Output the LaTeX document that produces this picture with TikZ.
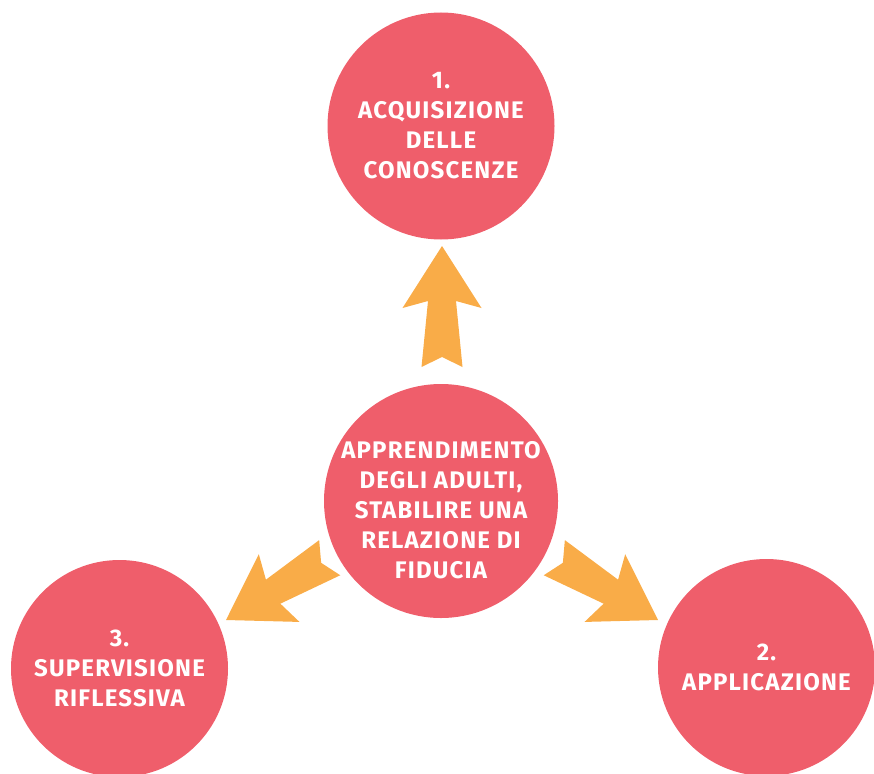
\documentclass[tikz,border=0pt]{standalone}
\usepackage{fontspec}
\setmainfont{Fira Sans}[LetterSpace=5]
\usetikzlibrary{shapes}

\definecolor{bubblered}{RGB}{239,94,107}
\definecolor{arroworange}{RGB}{249,172,72}

\tikzset{
  bubble/.style={circle, fill=bubblered, inner sep=0pt},
  bubbletext/.style={text=white, align=center, inner sep=0pt,
    font=\fontsize{24}{30}\selectfont\bfseries},
  fatarrow/.pic={
    \fill[arroworange] (0,0) -- (-62,39.5) -- (-55,14) -- (-121,20.5)
      -- (-111,0) -- (-121,-20.5) -- (-55,-14) -- (-62,-39.5) -- cycle;
  }
}

\begin{document}
\begin{tikzpicture}[x=1pt,y=-1pt]
    \useasboundingbox (0,0) rectangle (874,773);
    \clip (0,0) rectangle (874,773);

    % the three arrows out of the centre
    \pic[rotate=90] at (442,246) {fatarrow};
    \pic[rotate=211] at (226,620) {fatarrow};
    \pic[rotate=-31] at (658,620) {fatarrow};

    % circles
    \node[bubble, minimum size=227pt] (acq) at (441,126) {};
    \node[bubble, minimum size=234pt] (hub) at (441,501) {};
    \node[bubble, minimum size=217pt] (sup) at (119.5,668.5) {};
    \node[bubble, minimum size=217pt] (app) at (766.5,667.5) {};

    \node[bubbletext] (acq-text) at (acq) {1.\\ACQUISIZIONE\\DELLE\\CONOSCENZE};
    \node[bubbletext, yshift=-9pt] (hub-text) at (hub) {APPRENDIMENTO\\DEGLI ADULTI,\\STABILIRE UNA\\RELAZIONE DI\\FIDUCIA};
    \node[bubbletext] (sup-text) at (sup) {3.\\SUPERVISIONE\\RIFLESSIVA};
    \node[bubbletext] (app-text) at (app) {2.\\APPLICAZIONE};
\end{tikzpicture}
\end{document}
